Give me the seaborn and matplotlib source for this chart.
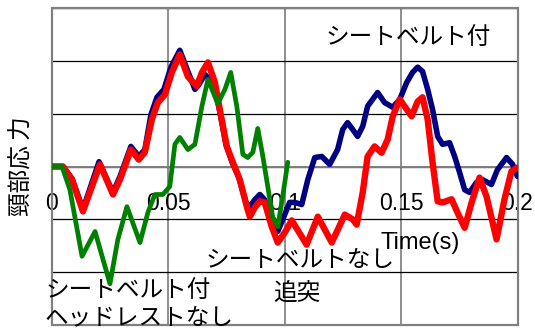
import matplotlib
matplotlib.use("Agg")
import matplotlib.pyplot as plt
import matplotlib.patches as mpatches
import pandas as pd
import seaborn as sns

# Time axis (s) and neck load for each case
belt_t = [0, 0.0047, 0.0086, 0.0133, 0.0202, 0.0262, 0.0292, 0.0339, 0.0373, 0.0399,
          0.0425, 0.0451, 0.0481, 0.0511, 0.0549, 0.0584, 0.0614, 0.0631, 0.0657, 0.0678,
          0.0700, 0.0721, 0.0747, 0.0773, 0.0803, 0.0833, 0.0850, 0.0871, 0.0893, 0.0914,
          0.0940, 0.0970, 0.1000, 0.1021, 0.1043, 0.1073, 0.1099, 0.1129, 0.1159, 0.1193,
          0.1227, 0.1249, 0.1270, 0.1292, 0.1313, 0.1335, 0.1356, 0.1399, 0.1429, 0.1464,
          0.1494, 0.1524, 0.1549, 0.1571, 0.1592, 0.1614, 0.1635, 0.1657, 0.1678, 0.1708,
          0.1730, 0.1751, 0.1773, 0.1794, 0.1824, 0.1850, 0.1888, 0.1914, 0.1953, 0.1979,
          0.2000]
belt_y = [0, 0, -0.23, -0.81, 0.09, -0.49, -0.19, 0.38, 0.19, 0.32,
          0.98, 1.31, 1.46, 1.88, 2.20, 1.80, 1.46, 1.55, 1.74, 1.65,
          1.46, 1.04, 0.42, 0.09, -0.21, -0.68, -0.76, -0.63, -0.53, -0.63,
          -1.00, -1.23, -0.91, -0.68, -0.68, -0.72, -0.25, 0.17, 0.19, 0.04,
          0.32, 0.70, 0.83, 0.70, 0.57, 0.76, 1.14, 1.40, 1.21, 1.12,
          1.27, 1.59, 1.78, 1.88, 1.80, 1.46, 1.08, 0.57, 0.42, 0.45,
          0.19, -0.11, -0.44, -0.49, -0.30, -0.25, -0.34, -0.06, 0.17, 0.04,
          -0.19]

nobelt_t = [0, 0.0047, 0.0086, 0.0133, 0.0206, 0.0262, 0.0292, 0.0339, 0.0373, 0.0399,
            0.0429, 0.0455, 0.0485, 0.0515, 0.0549, 0.0584, 0.0622, 0.0644, 0.0670, 0.0700,
            0.0721, 0.0751, 0.0777, 0.0807, 0.0837, 0.0850, 0.0871, 0.0893, 0.0914, 0.0944,
            0.0970, 0.1000, 0.1030, 0.1094, 0.1142, 0.1202, 0.1258, 0.1292, 0.1309, 0.1335,
            0.1356, 0.1386, 0.1416, 0.1442, 0.1464, 0.1494, 0.1545, 0.1571, 0.1592, 0.1614,
            0.1635, 0.1657, 0.1678, 0.1717, 0.1742, 0.1773, 0.1803, 0.1837, 0.1867, 0.1910,
            0.1944, 0.1974, 0.2000]
nobelt_y = [0, 0, -0.25, -0.85, 0.04, -0.53, -0.25, 0.32, 0.13, 0.27,
            0.89, 1.21, 1.36, 1.78, 2.12, 1.70, 1.52, 1.78, 1.97, 1.59,
            1.08, 0.38, 0.08, -0.25, -0.76, -0.95, -0.78, -0.66, -0.68, -1.14,
            -1.44, -1.25, -1.02, -1.48, -0.95, -1.44, -0.91, -1.00, -1.10, -0.49,
            0.19, 0.38, 0.26, 0.51, 0.95, 1.27, 0.95, 1.23, 1.31, 0.89,
            0.08, -0.66, -0.68, -0.62, -0.87, -1.16, -0.68, -0.21, -0.57, -1.38,
            -0.62, -0.09, -0.02]

nohead_t = [0, 0.0043, 0.0077, 0.0129, 0.0185, 0.0249, 0.0283, 0.0322, 0.0378, 0.0412,
            0.0442, 0.0476, 0.0506, 0.0528, 0.0549, 0.0584, 0.0614, 0.0644, 0.0670, 0.0712,
            0.0743, 0.0768, 0.0794, 0.0820, 0.0841, 0.0863, 0.0884, 0.0906, 0.0927, 0.0948,
            0.0970, 0.0991, 0.1013]
nohead_y = [0, 0, -0.44, -1.70, -1.23, -2.22, -1.38, -0.76, -1.44, -0.87,
            -0.53, -0.53, -0.38, 0.42, 0.55, 0.32, 0.42, 1.14, 1.65, 1.19,
            1.46, 1.78, 1.14, 0.23, 0.17, 0.27, 0.72, 0.19, -0.38, -0.95,
            -1.14, -0.57, 0.08]

x_ticks = [0, 0.05, 0.1, 0.15, 0.2]
x_tick_labels = ["0", "0.05", "0.1", "0.15", "0.2"]

sns.set_theme(style="white")
plt.rcParams["font.family"] = ["Liberation Sans", "Noto Sans CJK JP", "DejaVu Sans"]
jp = ["Noto Sans CJK JP", "DejaVu Sans"]

fig = plt.figure(figsize=(5.35, 3.31), dpi=100)
ax = fig.add_axes([52 / 535, 6 / 331, 465.5 / 535, 317 / 331])

series = [
    (belt_t, belt_y, "#000080", 4.0),
    (nobelt_t, nobelt_y, "#ff0000", 4.6),
    (nohead_t, nohead_y, "#008000", 3.4),
]
for t, y, color, lw in series:
    df = pd.DataFrame({"t": t, "y": y})
    sns.lineplot(data=df, x="t", y="y", ax=ax, color=color, linewidth=lw,
                 sort=False, estimator=None, solid_joinstyle="round",
                 solid_capstyle="round", zorder=3)

ax.set_xlim(0, 0.2)
ax.set_ylim(-3, 3)
ax.set_yticks(range(-3, 4))
ax.set_yticklabels([])
ax.set_xticks(x_ticks)
ax.set_xticklabels(x_tick_labels)
ax.tick_params(axis="x", length=0, pad=18, colors="black", labelsize=16.5)
for lbl in ax.get_xticklabels():
    lbl.set_fontfamily("Liberation Sans")
ax.tick_params(axis="y", length=0)
ax.set_xlabel("")
ax.set_ylabel("頸部応 力", family=jp, fontsize=17, labelpad=10, color="black")

# grid: black horizontals, grey verticals
ax.yaxis.grid(True, color="black", linewidth=0.9)
ax.xaxis.grid(True, color="#707070", linewidth=1.1)
ax.set_axisbelow(True)

for side in ["top", "right", "left"]:
    ax.spines[side].set_visible(False)
ax.spines["bottom"].set_position(("data", 0))
ax.spines["bottom"].set_color("#808080")
ax.spines["bottom"].set_linewidth(1.4)
ax.add_patch(mpatches.Rectangle((0, 0), 1, 1, transform=ax.transAxes, fill=False,
                                edgecolor="#808080", linewidth=1.6, clip_on=False,
                                zorder=1))

ax.text(0.1584, -1.44, "Time(s)", fontsize=17, family="Liberation Sans",
        ha="center", va="center", color="black")
ax.text(0.1532, 2.45, "シートベルト付", family=jp, fontsize=17,
        ha="center", va="center", color="black")
ax.text(0.1064, -1.78, "シートベルトなし", family=jp, fontsize=17,
        ha="center", va="center", color="black")
ax.text(0.1052, -2.40, "追突", family=jp, fontsize=17,
        ha="center", va="center", color="black")
ax.text(-0.003, -2.35, "シートベルト付", family=jp, fontsize=17,
        ha="left", va="center", color="black", clip_on=False)
ax.text(-0.003, -2.86, "ヘッドレストなし", family=jp, fontsize=17,
        ha="left", va="center", color="black", clip_on=False)

fig.savefig("out.png", dpi=100)
